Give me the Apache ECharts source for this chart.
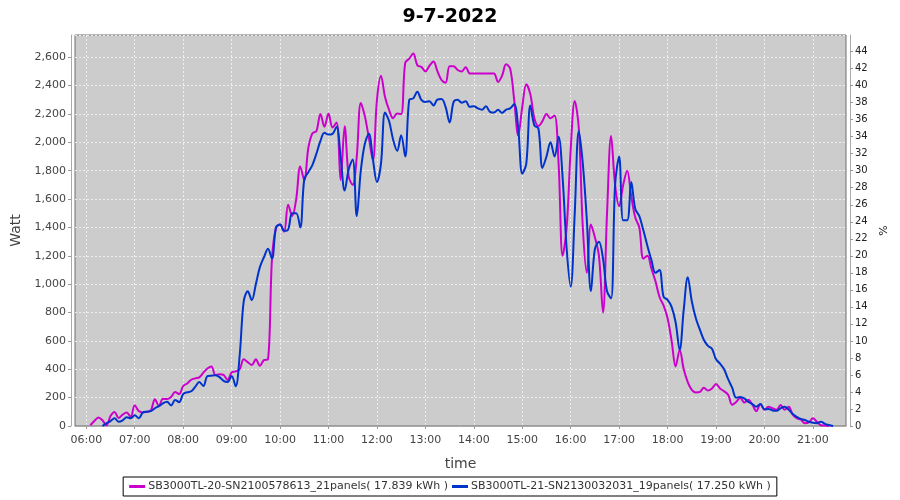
<!DOCTYPE html>
<html>
<head>
<meta charset="utf-8">
<title>9-7-2022</title>
<script src="https://cdn.jsdelivr.net/npm/echarts@6/dist/echarts.min.js"></script>
<style>
  html, body { margin: 0; padding: 0; background: #fff; }
  #chart { width: 900px; height: 500px; }
</style>
</head>
<body>
<div id="chart"></div>
<script>
// samples every 5 minutes starting at 06:00
const startMinute = 360;
const stepMinutes = 5;

const hourLabels = ['06:00', '07:00', '08:00', '09:00', '10:00', '11:00', '12:00', '13:00',
  '14:00', '15:00', '16:00', '17:00', '18:00', '19:00', '20:00', '21:00'];

const seriesNames = [
  'SB3000TL-20-SN2100578613_21panels( 17.839 kWh )',
  'SB3000TL-21-SN2130032031_19panels( 17.250 kWh )'
];

// SB3000TL-20 (Watt)
const inverter20 = [
  null, 5, 35, 60, 40, 5, 70, 99, 56, 80,
  95, 65, 146, 105, 95, 100, 110, 188, 141, 192,
  190, 205, 240, 225, 282, 300, 326, 336, 343, 376,
  405, 420, 359, 365, 360, 324, 378, 385, 400, 470,
  450, 430, 470, 425, 465, 470, 1180, 1400, 1420, 1370,
  1560, 1480, 1600, 1830, 1734, 1960, 2063, 2080, 2200, 2110,
  2203, 2105, 2140, 1734, 2114, 1760, 1700, 1900, 2278, 2185,
  2030, 1874, 2300, 2470, 2320, 2230, 2170, 2203, 2200, 2560,
  2590, 2626, 2544, 2532, 2500, 2540, 2570, 2500, 2440, 2420,
  2537, 2537, 2510, 2500, 2530, 2485, 2485, 2485, 2485, 2485,
  2485, 2485, 2426, 2470, 2550, 2521, 2300, 2050, 2250, 2410,
  2340, 2170, 2115, 2150, 2200, 2170, 2190, 1850, 1200, 1400,
  1950, 2292, 2100, 1400, 1080, 1420, 1330, 1200, 800, 1500,
  2044, 1700, 1550, 1700, 1800, 1620, 1470, 1400, 1180, 1200,
  1110, 1020, 910, 850, 760, 600, 420, 536, 400, 310,
  254, 236, 240, 270, 250, 265, 296, 265, 245, 220,
  150, 170, 200, 165, 185, 150, 105, 155, 115, 135,
  125, 115, 148, 115, 135, 80, 55, 45, 20, 25,
  54, 30, 5, 3, 0, null
];

// SB3000TL-21 (Watt)
const inverter21 = [
  null, null, null, null, 0, 20, 35, 54, 30, 40,
  62, 55, 75, 55, 95, 101, 105, 125, 140, 160,
  171, 145, 183, 168, 225, 238, 245, 277, 310, 282,
  352, 355, 357, 345, 318, 310, 352, 280, 500, 880,
  950, 888, 1000, 1120, 1190, 1250, 1180, 1400, 1420, 1376,
  1385, 1500, 1500, 1400, 1740, 1790, 1840, 1920, 2010, 2067,
  2055, 2060, 2110, 1900, 1660, 1810, 1880, 1480, 1800, 1990,
  2060, 1880, 1720, 1850, 2210, 2150, 2020, 1940, 2050, 1900,
  2300, 2310, 2356, 2300, 2285, 2290, 2260, 2302, 2305, 2250,
  2140, 2285, 2300, 2280, 2290, 2250, 2255, 2240, 2230, 2255,
  2215, 2210, 2230, 2208, 2230, 2240, 2270, 2100, 1780, 1850,
  2260, 2120, 2098, 1820, 1900, 2000, 1900, 2040, 1750, 1250,
  982, 1500, 2080, 1850, 1450, 950, 1250, 1300, 1180, 950,
  900, 1700, 1900, 1450, 1450, 1720, 1530, 1480, 1380, 1270,
  1170, 1080, 1100, 911, 890, 840, 730, 536, 820, 1048,
  880, 760, 680, 606, 565, 545, 470, 440, 400, 330,
  270, 200, 205, 195, 170, 155, 136, 155, 118, 120,
  110, 108, 125, 136, 115, 85, 65, 50, 42, 30,
  23, 20, 30, 15, 7, 0
];

const toMinutes = s => { const p = s.split(':'); return +p[0] * 60 + +p[1]; };
const hourTicks = hourLabels.map(toMinutes);
const pad = n => (n < 10 ? '0' : '') + n;
const fmtTime = m => pad(Math.floor(m / 60)) + ':' + pad(m % 60);
const toPairs = arr => arr.map((v, i) => [startMinute + i * stepMinutes, v]);

const maxWatt = 2757;
const fontFamily = 'DejaVu Sans';

const chart = echarts.init(document.getElementById('chart'), null, { renderer: 'canvas' });

const option = {
  backgroundColor: '#ffffff',
  animation: false,
  textStyle: { fontFamily: fontFamily },
  title: {
    text: '9-7-2022',
    left: 'center',
    top: 3,
    textStyle: { fontSize: 19, fontWeight: 'bold', color: '#000', fontFamily: fontFamily }
  },
  legend: {
    left: 'center',
    top: 477,
    padding: [4, 6],
    itemGap: 4,
    itemWidth: 16,
    itemHeight: 3,
    icon: 'rect',
    borderColor: '#000',
    borderWidth: 1,
    backgroundColor: '#fff',
    textStyle: { fontSize: 11, color: '#333', fontFamily: fontFamily, padding: [0, 0, 0, -2] },
    data: seriesNames
  },
  grid: {
    left: 75, right: 54, top: 35, bottom: 74,
    show: true,
    backgroundColor: '#cccccc',
    borderColor: '#6e6e6e',
    borderWidth: 1
  },
  xAxis: {
    type: 'value',
    min: 346,
    max: 1301,
    offset: 4,
    name: 'time',
    nameLocation: 'middle',
    nameGap: 27,
    nameTextStyle: { fontSize: 14, color: '#444', fontFamily: fontFamily },
    axisLine: { show: true, lineStyle: { color: '#aaaaaa' } },
    axisTick: { show: true, length: 3, customValues: hourTicks, lineStyle: { color: '#999' } },
    axisLabel: {
      customValues: hourTicks,
      formatter: v => fmtTime(v),
      fontSize: 11, color: '#444', margin: 5
    },
    splitLine: { show: true, lineStyle: { color: '#eeeeee', type: [2, 2], width: 1 } }
  },
  yAxis: [
    {
      type: 'value',
      min: 0,
      max: maxWatt,
      interval: 200,
      offset: 4,
      name: 'Watt',
      nameLocation: 'middle',
      nameGap: 48,
      nameTextStyle: { fontSize: 14, color: '#444', fontFamily: fontFamily },
      axisLine: { show: true, lineStyle: { color: '#aaaaaa' } },
      axisTick: { show: true, length: 3, lineStyle: { color: '#999' } },
      axisLabel: {
        showMaxLabel: false,
        formatter: v => v.toLocaleString('en-US'),
        fontSize: 11, color: '#444', margin: 5
      },
      splitLine: { show: true, lineStyle: { color: '#eeeeee', type: [2, 2], width: 1 } }
    },
    {
      type: 'value',
      position: 'right',
      min: 0,
      max: maxWatt / 60,
      interval: 2,
      offset: 4,
      name: '%',
      nameLocation: 'middle',
      nameGap: 26,
      nameRotate: 90,
      nameTextStyle: { fontSize: 11, color: '#222', fontFamily: fontFamily },
      axisLine: { show: true, lineStyle: { color: '#aaaaaa' } },
      axisTick: { show: true, length: 3, lineStyle: { color: '#999' } },
      axisLabel: { showMaxLabel: false, fontSize: 10, color: '#222', margin: 5 },
      splitLine: { show: false }
    }
  ],
  series: [
    {
      name: seriesNames[0],
      type: 'line',
      data: toPairs(inverter20),
      smooth: 0.35,
      showSymbol: false,
      symbol: 'none',
      clip: true,
      lineStyle: { color: '#cc00cc', width: 2 },
      itemStyle: { color: '#cc00cc' }
    },
    {
      name: seriesNames[1],
      type: 'line',
      data: toPairs(inverter21),
      smooth: 0.35,
      showSymbol: false,
      symbol: 'none',
      clip: true,
      lineStyle: { color: '#0033cc', width: 2 },
      itemStyle: { color: '#0033cc' }
    }
  ]
};

chart.setOption(option);
</script>
</body>
</html>
